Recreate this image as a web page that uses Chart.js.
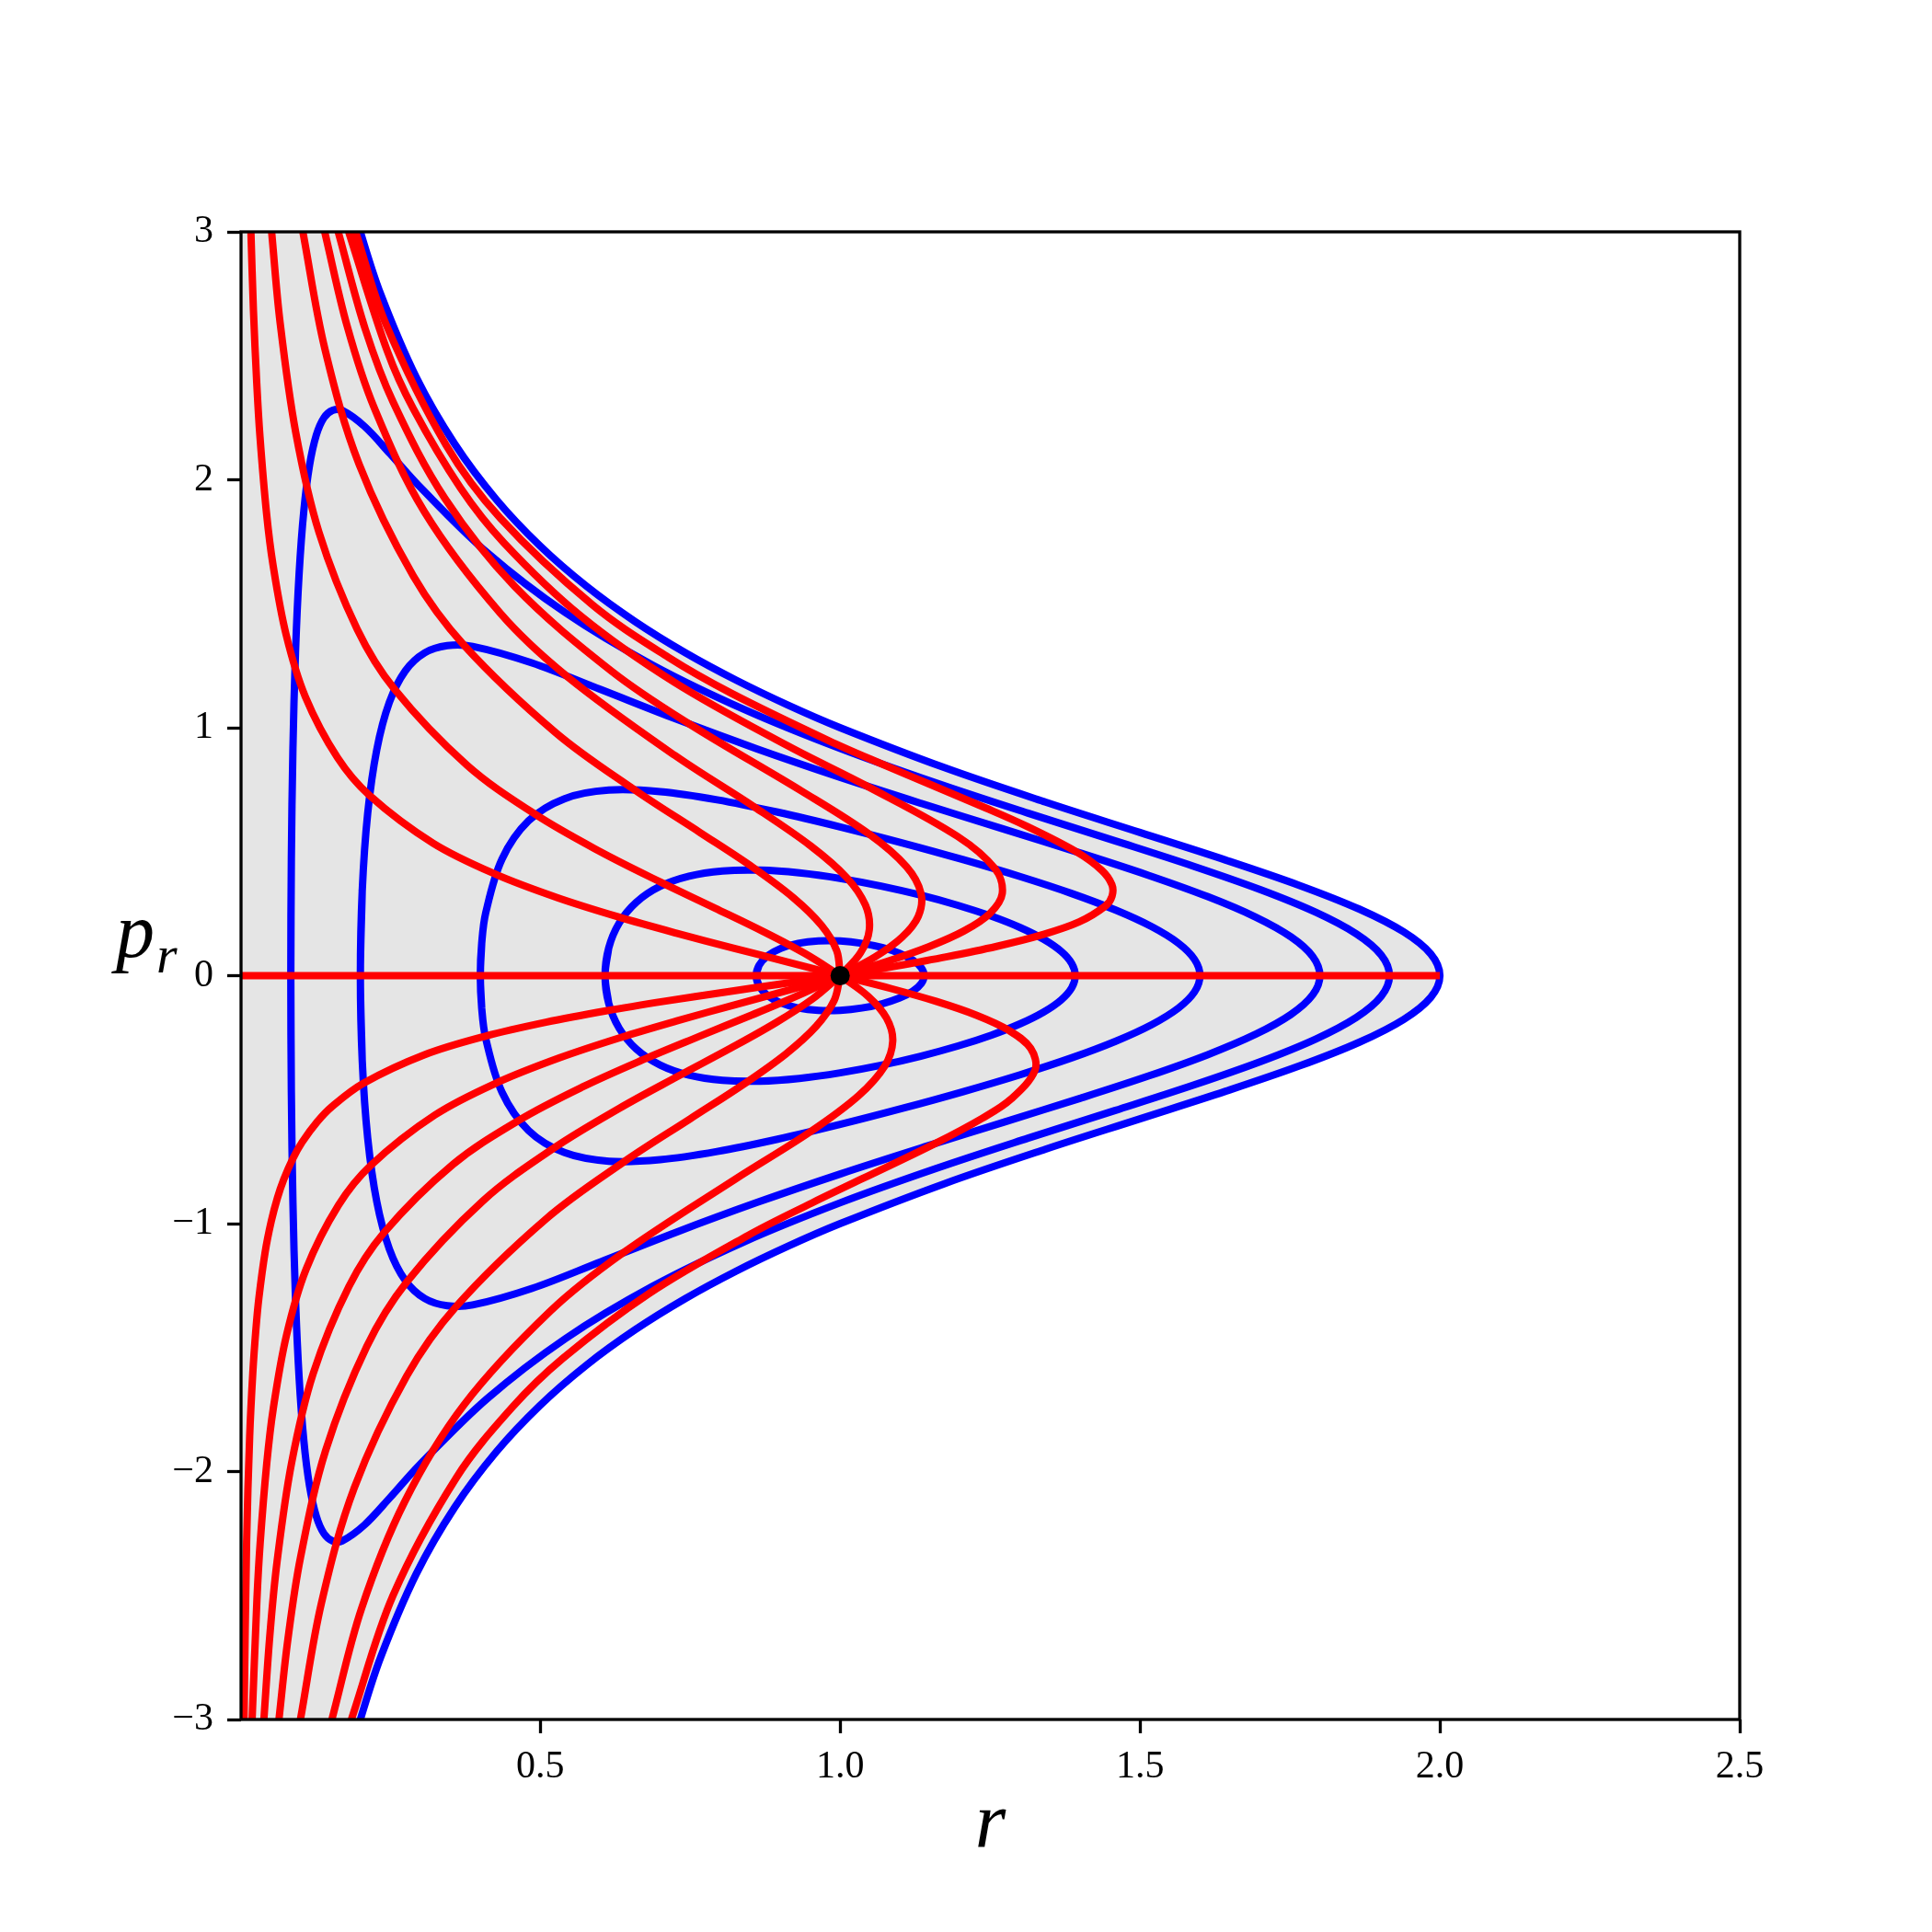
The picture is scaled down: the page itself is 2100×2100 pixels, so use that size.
<!DOCTYPE html>
<html>
<head>
<meta charset="utf-8">
<script src="https://cdn.jsdelivr.net/npm/chart.js@4/dist/chart.umd.min.js"></script>
<style>
  html, body { margin: 0; padding: 0; background: #fff; }
  canvas { display: block; }
</style>
</head>
<body>
<canvas id="phase" width="2100" height="2100" style="width:2100px;height:2100px"></canvas>
<script>
// axis ticks
const xTicks = [0.5, 1.0, 1.5, 2.0, 2.5]
const yTicks = [-3, -2, -1, 0, 1, 2, 3]

// blue curves, [r, p_r], upper half then lower half
const blueE014Upper = [[0.86,0],[0.8648,0.0419],[0.8788,0.0797],[0.901,0.1099],[0.93,0.1304],[0.9638,0.1403],[1,0.14],[1.0362,0.1305],[1.07,0.1133],[1.099,0.0901],[1.1212,0.0624],[1.1352,0.0319],[1.14,0]]
const blueE014Lower = [[1.1352,-0.0319],[1.1212,-0.0624],[1.099,-0.0901],[1.07,-0.1133],[1.0362,-0.1305],[1,-0.14],[0.9638,-0.1403],[0.93,-0.1304],[0.901,-0.1099],[0.8788,-0.0797],[0.8648,-0.0419],[0.86,0]]

const blueE039Upper = [[0.608,0],[0.614,0.1109],[0.6316,0.2123],[0.6605,0.2967],[0.6997,0.3601],[0.748,0.4014],[0.804,0.4222],[0.8659,0.4254],[0.9319,0.4143],[1,0.392],[1.0681,0.3615],[1.1341,0.3248],[1.196,0.2839],[1.252,0.2399],[1.3003,0.1938],[1.3395,0.1463],[1.3684,0.098],[1.3861,0.0491],[1.392,0]]
const blueE039Lower = [[1.3861,-0.0491],[1.3684,-0.098],[1.3395,-0.1463],[1.3003,-0.1938],[1.252,-0.2399],[1.196,-0.2839],[1.1341,-0.3248],[1.0681,-0.3615],[1,-0.392],[0.9319,-0.4143],[0.8659,-0.4254],[0.804,-0.4222],[0.748,-0.4014],[0.6997,-0.3601],[0.6605,-0.2967],[0.6316,-0.2123],[0.614,-0.1109],[0.608,0]]

const blueE06Upper = [[0.4,0],[0.4023,0.13],[0.4091,0.2547],[0.4362,0.4705],[0.4804,0.6245],[0.5404,0.7137],[0.6143,0.7482],[0.7,0.7423],[0.7948,0.7094],[0.8958,0.6596],[1,0.6],[1.1042,0.5351],[1.2052,0.4678],[1.3,0.3997],[1.3857,0.3317],[1.4596,0.2642],[1.5196,0.1974],[1.5638,0.1312],[1.5909,0.0655],[1.6,0]]
const blueE06Lower = [[1.5909,-0.0655],[1.5638,-0.1312],[1.5196,-0.1974],[1.4596,-0.2642],[1.3857,-0.3317],[1.3,-0.3997],[1.2052,-0.4678],[1.1042,-0.5351],[1,-0.6],[0.8958,-0.6596],[0.7948,-0.7094],[0.7,-0.7423],[0.6143,-0.7482],[0.5404,-0.7137],[0.4804,-0.6245],[0.4362,-0.4705],[0.4091,-0.2547],[0.4023,-0.13],[0.4,0]]

const blueE08Upper = [[0.2,0],[0.2031,0.3434],[0.2122,0.6548],[0.2273,0.9111],[0.2483,1.1022],[0.275,1.2297],[0.3072,1.3022],[0.3447,1.3313],[0.3872,1.3282],[0.4858,1.2616],[0.6,1.1547],[0.7264,1.0349],[0.8611,0.915],[1,0.8],[1.1389,0.6918],[1.2736,0.5903],[1.4,0.4949],[1.5142,0.4047],[1.6128,0.3188],[1.6928,0.2363],[1.7518,0.1562],[1.7879,0.0777],[1.8,0]]
const blueE08Lower = [[1.7879,-0.0777],[1.7518,-0.1562],[1.6928,-0.2363],[1.6128,-0.3188],[1.5142,-0.4047],[1.4,-0.4949],[1.2736,-0.5903],[1.1389,-0.6918],[1,-0.8],[0.8611,-0.915],[0.7264,-1.0349],[0.6,-1.1547],[0.4858,-1.2616],[0.3872,-1.3282],[0.3447,-1.3313],[0.3072,-1.3022],[0.275,-1.2297],[0.2483,-1.1022],[0.2273,-0.9111],[0.2122,-0.6548],[0.2031,-0.3434],[0.2,0]]

const blueE092Upper = [[0.084,0],[0.0849,0.4708],[0.0875,0.9126],[0.0918,1.3019],[0.0979,1.6246],[0.1057,1.8755],[0.1152,2.0578],[0.1264,2.1794],[0.1392,2.25],[0.1537,2.2802],[0.1698,2.2796],[0.2067,2.2156],[0.2497,2.1044],[0.2983,1.9738],[0.4112,1.7064],[0.542,1.4636],[0.6867,1.2535],[0.8409,1.0727],[1,0.916],[1.1591,0.7783],[1.3133,0.6554],[1.458,0.5441],[1.5888,0.4417],[1.7017,0.346],[1.7933,0.2554],[1.8608,0.1684],[1.9021,0.0836],[1.916,0]]
const blueE092Lower = [[1.9021,-0.0836],[1.8608,-0.1684],[1.7933,-0.2554],[1.7017,-0.346],[1.5888,-0.4417],[1.458,-0.5441],[1.3133,-0.6554],[1.1591,-0.7783],[1,-0.916],[0.8409,-1.0727],[0.6867,-1.2535],[0.542,-1.4636],[0.4112,-1.7064],[0.2983,-1.9738],[0.2497,-2.1044],[0.2067,-2.2156],[0.1698,-2.2796],[0.1537,-2.2802],[0.1392,-2.25],[0.1264,-2.1794],[0.1152,-2.0578],[0.1057,-1.8755],[0.0979,-1.6246],[0.0918,-1.3019],[0.0875,-0.9126],[0.0849,-0.4708],[0.084,0]]

// outermost blue curve, open at r -> 0
const blueE1Upper = [[0.1809,3.1716],[0.2,3],[0.234,2.7475],[0.2929,2.4142],[0.3572,2.1445],[0.4264,1.921],[0.5,1.7321],[0.5774,1.5697],[0.658,1.4282],[0.7412,1.3032],[0.8264,1.1918],[0.9128,1.0913],[1,1],[1.1736,0.8391],[1.342,0.7002],[1.5,0.5774],[1.6428,0.4663],[1.766,0.364],[1.866,0.268],[1.9397,0.1763],[1.9848,0.0875],[2,0]]
const blueE1Lower = [[1.9848,-0.0875],[1.9397,-0.1763],[1.866,-0.268],[1.766,-0.364],[1.6428,-0.4663],[1.5,-0.5774],[1.342,-0.7002],[1.1736,-0.8391],[1,-1],[0.9128,-1.0913],[0.8264,-1.1918],[0.7412,-1.3032],[0.658,-1.4282],[0.5774,-1.5697],[0.5,-1.7321],[0.4264,-1.921],[0.3572,-2.1445],[0.2929,-2.4142],[0.234,-2.7475],[0.2,-3],[0.1809,-3.1716]]

// red curves through the fixed point (1, 0)
const redAxis = [[0,0],[2,0]]
const redF158 = [[1,0],[1.0912,0.0377],[1.1785,0.0765],[1.2607,0.1178],[1.3352,0.1635],[1.3982,0.2163],[1.4424,0.281],[1.4534,0.3204],[1.4531,0.3672],[1.4362,0.4248],[1.394,0.4995],[1.3096,0.6045],[1.242,0.6771],[1.1478,0.7735],[1.0735,0.8496],[0.981,0.9478],[0.8181,1.1397],[0.7133,1.2844],[0.5873,1.4947],[0.4334,1.8448],[0.3433,2.1384],[0.2424,2.629],[0.192,3]]
const redF145 = [[1,0],[1.0783,0.0576],[1.1481,0.1171],[1.2065,0.1804],[1.2494,0.2503],[1.2703,0.3312],[1.2586,0.4302],[1.1955,0.5622],[1.0445,0.7648],[0.9137,0.9255],[0.7231,1.1843],[0.5672,1.4513],[0.4396,1.7451],[0.367,1.9666],[0.2877,2.2887],[0.2452,2.5168],[0.1805,3]]
const redF130 = [[1,0],[1.0588,0.0764],[1.1033,0.1552],[1.1302,0.2391],[1.1348,0.3319],[1.1107,0.439],[1.0486,0.5703],[0.9351,0.7454],[0.7493,1.0139],[0.6195,1.227],[0.4573,1.5701],[0.3412,1.924],[0.2546,2.3135],[0.2082,2.6071],[0.163,3]]
const redF115 = [[1,0],[1.0337,0.0911],[1.0486,0.185],[1.0421,0.285],[1.0109,0.3956],[0.9509,0.5233],[0.8574,0.6797],[0.7243,0.8884],[0.5439,1.2084],[0.4331,1.4624],[0.3066,1.8713],[0.2226,2.2932],[0.1781,2.6186],[0.1405,3]]
const redF92 = [[1,0],[0.9943,0.1004],[0.9685,0.2039],[0.9221,0.3142],[0.8549,0.436],[0.7667,0.5768],[0.6572,0.7493],[0.5261,0.9793],[0.373,1.3321],[0.2882,1.6121],[0.1978,2.0628],[0.1408,2.5278],[0.1041,3]]
const redF60 = [[1,0],[0.9429,0.087],[0.8727,0.1768],[0.7913,0.2724],[0.7,0.378],[0.6,0.5],[0.4923,0.6495],[0.3778,0.8489],[0.2571,1.1547],[0.1947,1.3974],[0.131,1.7881],[0.0922,2.1912],[0.0661,2.6348],[0.052,3]]
const redF33 = [[1,0],[0.9134,0.0547],[0.8221,0.1112],[0.7271,0.1713],[0.629,0.2377],[0.5284,0.3145],[0.4258,0.4085],[0.3214,0.5339],[0.2155,0.7262],[0.162,0.8788],[0.1083,1.1245],[0.0759,1.3781],[0.0543,1.6571],[0.0434,1.8673],[0.0326,2.1732],[0.0272,2.3898],[0.0217,2.6822],[0.0175,3]]
const redFm19 = [[1,0],[0.9045,-0.0327],[0.8073,-0.0665],[0.7089,-0.1024],[0.6095,-0.1421],[0.5093,-0.188],[0.4083,-0.2442],[0.3069,-0.3191],[0.205,-0.4341],[0.1539,-0.5253],[0.1283,-0.5884],[0.1027,-0.6722],[0.0873,-0.7384],[0.0719,-0.8238],[0.0616,-0.897],[0.0514,-0.9905],[0.0411,-1.1162],[0.0308,-1.2991],[0.0257,-1.4286],[0.0206,-1.6033],[0.0154,-1.8585],[0.0103,-2.2848],[0.006,-3]]
const redFm35 = [[1,0],[0.915,-0.0576],[0.8249,-0.1171],[0.7305,-0.1804],[0.6327,-0.2503],[0.5321,-0.3312],[0.4291,-0.4302],[0.3241,-0.5622],[0.2175,-0.7648],[0.1636,-0.9255],[0.1094,-1.1843],[0.0767,-1.4513],[0.0548,-1.7451],[0.0439,-1.9666],[0.0329,-2.2887],[0.0275,-2.5168],[0.0195,-3]]
const redFm51 = [[1,0],[0.9314,-0.0781],[0.8527,-0.1586],[0.7655,-0.2444],[0.6711,-0.3392],[0.5705,-0.4487],[0.4646,-0.5829],[0.354,-0.7618],[0.2395,-1.0362],[0.1808,-1.254],[0.1213,-1.6046],[0.0852,-1.9664],[0.061,-2.3644],[0.0489,-2.6645],[0.0391,-3]]
const redFm68 = [[1,0],[0.9543,-0.0932],[0.8931,-0.1893],[0.8181,-0.2916],[0.7305,-0.4047],[0.6317,-0.5353],[0.5226,-0.6954],[0.4041,-0.9088],[0.277,-1.2362],[0.2105,-1.4961],[0.1421,-1.9144],[0.1002,-2.346],[0.079,-2.6789],[0.0642,-3]]
const redFm90 = [[1,0],[0.99,-0.1005],[0.96,-0.2041],[0.91,-0.3145],[0.84,-0.4364],[0.75,-0.5774],[0.64,-0.75],[0.51,-0.9802],[0.36,-1.3333],[0.2775,-1.6136],[0.19,-2.0647],[0.1351,-2.5302],[0.1,-3]]
const redFm123 = [[1,0],[1.047,-0.0843],[1.0774,-0.1712],[1.0877,-0.2638],[1.074,-0.366],[1.0307,-0.4842],[0.9507,-0.629],[0.8242,-0.8221],[0.638,-1.1182],[0.5167,-1.3533],[0.3727,-1.7316],[0.2738,-2.122],[0.202,-2.5516],[0.1525,-3]]
const redFm149 = [[1,0],[1.0833,-0.051],[1.1599,-0.1036],[1.2272,-0.1596],[1.2818,-0.2215],[1.3177,-0.293],[1.325,-0.3807],[1.2851,-0.4975],[1.2367,-0.5755],[1.1587,-0.6767],[1.0369,-0.819],[0.9525,-0.9173],[0.8462,-1.0479],[0.68,-1.2842],[0.5373,-1.5442],[0.4536,-1.7401],[0.3599,-2.0252],[0.2545,-2.4995],[0.185,-3]]

// the fixed point
const fixedPoint = [[1,0]]

const BLUE = '#0000ff'
const RED = '#ff0000'
const SHADE = '#e5e5e5'
const LW = 8

const toPts = a => a.map(([x, y]) => ({ x, y }))

// close a loop and wrap one point each side so the spline has no kink at the seam
function closedLoop(upper, lower) {
  const loop = upper.concat(lower)
  return toPts([loop[loop.length - 2], ...loop, loop[1]])
}

const blueLoops = [
  [blueE014Upper, blueE014Lower],
  [blueE039Upper, blueE039Lower],
  [blueE06Upper, blueE06Lower],
  [blueE08Upper, blueE08Lower],
  [blueE092Upper, blueE092Lower],
]
const redCurves = [redAxis, redF158, redF145, redF130, redF115, redF92, redF60, redF33,
  redFm19, redFm35, redFm51, redFm68, redFm90, redFm123, redFm149]

const datasets = []

// shaded region between the left axis and the outer curve
const shadeOutline = [[-0.1, blueE1Upper[0][1]], ...blueE1Upper, ...blueE1Lower,
  [-0.1, blueE1Lower[blueE1Lower.length - 1][1]]]
datasets.push({
  data: toPts(shadeOutline), showLine: true, fill: 'shape', backgroundColor: SHADE,
  borderWidth: 0, borderColor: 'rgba(0,0,0,0)', tension: 0.35, pointRadius: 0, order: 5, clip: 0
})

blueLoops.forEach(([up, low]) => {
  datasets.push({ data: closedLoop(up, low), showLine: true, borderColor: BLUE, borderWidth: LW,
    tension: 0.35, pointRadius: 0, order: 3, clip: 0, fill: false })
})
datasets.push({ data: toPts(blueE1Upper.concat(blueE1Lower)), showLine: true, borderColor: BLUE,
  borderWidth: LW, tension: 0.35, pointRadius: 0, order: 3, clip: 0, fill: false })

redCurves.forEach(c => {
  datasets.push({ data: toPts(c), showLine: true, borderColor: RED, borderWidth: LW,
    tension: 0.35, pointRadius: 0, order: 2, clip: 0, fill: false })
})

datasets.push({ data: toPts(fixedPoint), showLine: false, pointRadius: 10.5,
  pointBackgroundColor: '#000', pointBorderWidth: 0, order: 0 })

// frame (all four spines) and the math-style axis labels
const framePlugin = {
  id: 'frame',
  afterDraw(chart) {
    const { ctx, chartArea: a } = chart
    ctx.save()
    ctx.strokeStyle = '#000'
    ctx.lineWidth = 3.3
    ctx.strokeRect(a.left, a.top, a.right - a.left, a.bottom - a.top)

    ctx.fillStyle = '#000'
    ctx.textBaseline = 'alphabetic'
    ctx.textAlign = 'center'
    ctx.font = 'italic 86px "Liberation Serif", serif'
    ctx.fillText('r', (a.left + a.right) / 2, 2008)

    ctx.textAlign = 'left'
    ctx.font = 'italic 84px "Liberation Serif", serif'
    ctx.fillText('p', 126, 1040)
    const pw = ctx.measureText('p').width
    ctx.font = 'italic 58px "Liberation Serif", serif'
    ctx.fillText('r', 126 + pw + 2, 1057)
    ctx.restore()
  }
}

const tickFont = { family: '"Liberation Serif", serif', size: 42 }

new Chart(document.getElementById('phase'), {
  type: 'scatter',
  data: { datasets },
  options: {
    responsive: false,
    animation: false,
    devicePixelRatio: 1,
    layout: { padding: { left: 0, top: 252, right: 209, bottom: 0 } },
    plugins: { legend: { display: false }, tooltip: { enabled: false } },
    elements: { line: { borderCapStyle: 'butt', borderJoinStyle: 'round' } },
    scales: {
      x: {
        type: 'linear', min: 0.001, max: 2.5,
        afterFit: s => { s.height = 231 },
        afterBuildTicks: s => { s.ticks = xTicks.map(v => ({ value: v })) },
        ticks: { callback: v => Number(v).toFixed(1), font: tickFont, color: '#000',
          padding: 12, maxRotation: 0, autoSkip: false },
        grid: { drawOnChartArea: false, drawTicks: true, tickLength: 15, tickWidth: 3.3, tickColor: '#000' },
        border: { display: false }
      },
      y: {
        type: 'linear', min: -3, max: 3,
        afterFit: s => { s.width = 262 },
        afterBuildTicks: s => { s.ticks = yTicks.map(v => ({ value: v })) },
        ticks: { callback: v => (v < 0 ? '\u2212' + Math.abs(v) : String(v)), font: tickFont,
          color: '#000', padding: 15, autoSkip: false },
        grid: { drawOnChartArea: false, drawTicks: true, tickLength: 15, tickWidth: 3.3, tickColor: '#000' },
        border: { display: false }
      }
    }
  },
  plugins: [framePlugin]
})
</script>
</body>
</html>
